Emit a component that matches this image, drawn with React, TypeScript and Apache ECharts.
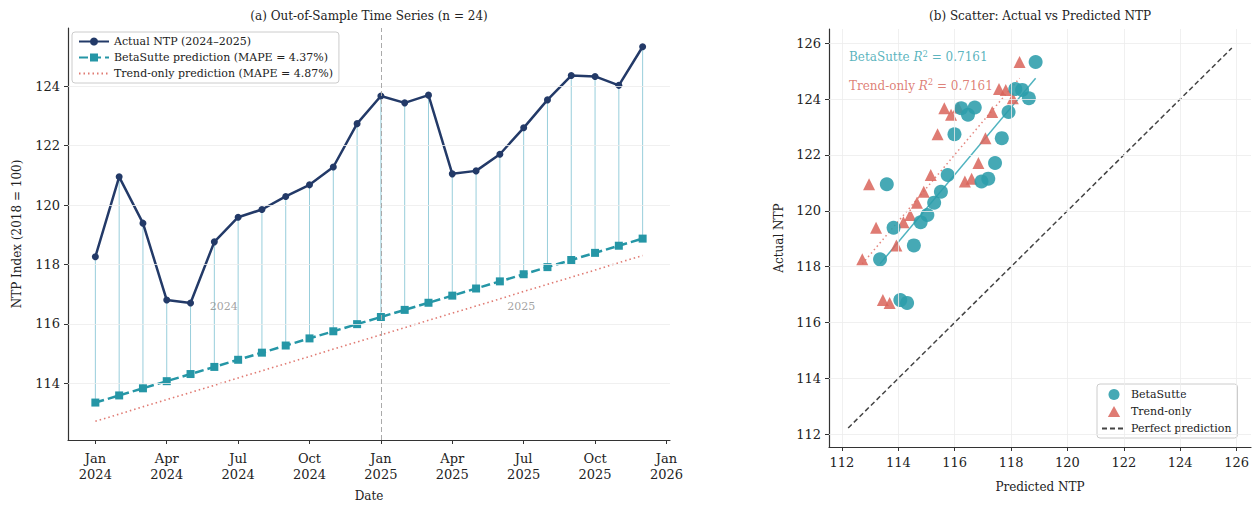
import React, { useEffect, useRef } from "react";
import * as echarts from "echarts";

const months = [
  "2024-01", "2024-02", "2024-03", "2024-04", "2024-05", "2024-06",
  "2024-07", "2024-08", "2024-09", "2024-10", "2024-11", "2024-12",
  "2025-01", "2025-02", "2025-03", "2025-04", "2025-05", "2025-06",
  "2025-07", "2025-08", "2025-09", "2025-10", "2025-11", "2025-12",
];
const actual = [
  118.26, 120.95, 119.39, 116.8, 116.7, 118.76, 119.59, 119.85, 120.29, 120.68, 121.28, 122.74,
  123.67, 123.44, 123.7, 121.05, 121.15, 121.71, 122.6, 123.54, 124.36, 124.33, 124.03, 125.33,
];
const betaSutte = [
  113.35, 113.59, 113.83, 114.07, 114.31, 114.55, 114.79, 115.03, 115.27, 115.51, 115.75, 115.99,
  116.23, 116.47, 116.71, 116.95, 117.19, 117.43, 117.67, 117.91, 118.15, 118.39, 118.63, 118.87,
];
const trendOnly = [
  112.72, 112.96, 113.21, 113.45, 113.69, 113.93, 114.18, 114.42, 114.66, 114.9, 115.15, 115.39,
  115.63, 115.87, 116.12, 116.36, 116.6, 116.84, 117.09, 117.33, 117.57, 117.81, 118.06, 118.3,
];
const xTickPos = [0, 3, 6, 9, 12, 15, 18, 21, 24];
const xTickLabels = [
  "Jan\n2024", "Apr\n2024", "Jul\n2024", "Oct\n2024", "Jan\n2025",
  "Apr\n2025", "Jul\n2025", "Oct\n2025", "Jan\n2026",
];
const leftYTicks = [114, 116, 118, 120, 122, 124];
const scatterTicks = [112, 114, 116, 118, 120, 122, 124, 126];
const yearLabels = [
  { x: 5.4, y: 116.6, text: "2024" },
  { x: 17.9, y: 116.6, text: "2025" },
];
const r2Beta = "0.7161";
const r2Trend = "0.7161";
const mapeBeta = "4.37%";
const mapeTrend = "4.87%";

const FONT = "'DejaVu Serif', 'Liberation Serif', serif";
const NAVY = "#233a68";
const TEAL = "#2596a6";
const TEAL_SC = "#2c9dab";
const RED = "#d9645a";
const RED_DOT = "#e07a72";
const STEM = "#98cedb";
const GRIDC = "#ececec";
const HIDDEN = { color: "rgba(0,0,0,0)", borderWidth: 0, opacity: 0 };

function fit(x: number[], y: number[]) {
  const n = x.length;
  const mx = x.reduce((a, b) => a + b, 0) / n;
  const my = y.reduce((a, b) => a + b, 0) / n;
  let sxy = 0, sxx = 0;
  for (let i = 0; i < n; i++) {
    sxy += (x[i] - mx) * (y[i] - my);
    sxx += (x[i] - mx) * (x[i] - mx);
  }
  const b = sxy / sxx;
  const a = my - b * mx;
  const lo = Math.min(...x), hi = Math.max(...x);
  return [[lo, a + b * lo], [hi, a + b * hi]];
}

export default function App() {
  const ref = useRef<HTMLDivElement>(null);
  useEffect(() => {
    if (!ref.current) return;
    const chart = echarts.init(ref.current, undefined, { renderer: "svg" });
    const idx = months.map((_, i) => i);
    const all = [...actual, ...betaSutte, ...trendOnly];
    const pLo = Math.min(...all) - 0.5;
    const pHi = Math.max(...all) + 0.5;
    const pad = (pHi - pLo) * 0.05;
    const sMin = pLo - pad, sMax = pHi + pad;
    const dMin = Math.min(...all), dMax = Math.max(...all);
    const lPad = (dMax - dMin) * 0.05;

    const axisLineStyle = { color: "#333", width: 1.2 };
    const tickLabel = { fontFamily: FONT, fontSize: 13, color: "#222" };

    const option: any = {
      animation: false,
      backgroundColor: "#fff",
      textStyle: { fontFamily: FONT },
      graphic: [
        {
          type: "text", x: 369, y: 16,
          style: { text: "(a) Out-of-Sample Time Series (n = 24)", font: `12px ${FONT}`, fill: "#222", textAlign: "center", textVerticalAlign: "middle", align: "center", verticalAlign: "middle" },
        },
        {
          type: "text", x: 1040, y: 16,
          style: { text: "(b) Scatter: Actual vs Predicted NTP", font: `12px ${FONT}`, fill: "#222", textAlign: "center", textVerticalAlign: "middle", align: "center", verticalAlign: "middle" },
        },
      ],
      legend: [
        {
          left: 72, top: 32, orient: "vertical",
          data: [
            "Actual NTP (2024–2025)",
            `BetaSutte prediction (MAPE = ${mapeBeta})`,
            { name: `Trend-only prediction (MAPE = ${mapeTrend})`, itemStyle: HIDDEN },
          ],
          itemWidth: 30, itemHeight: 10, itemGap: 5,
          padding: [4, 6, 4, 6],
          borderColor: "#ccc", borderWidth: 1, borderRadius: 3,
          backgroundColor: "rgba(255,255,255,0.85)",
          textStyle: { fontFamily: FONT, fontSize: 11, color: "#222" },
        },
        {
          left: 1097, top: 384, orient: "vertical",
          data: [
            { name: "BetaSutte", icon: "circle" },
            { name: "Trend-only", icon: "path://M5,0 L10,9 L0,9 Z" },
            { name: "Perfect prediction", itemStyle: HIDDEN },
          ],
          itemWidth: 24, itemHeight: 11, itemGap: 6,
          padding: [5, 6, 4, 4],
          borderColor: "#ccc", borderWidth: 1, borderRadius: 3,
          backgroundColor: "rgba(255,255,255,0.85)",
          textStyle: { fontFamily: FONT, fontSize: 11, color: "#222" },
        },
      ],
      grid: [
        { left: 68, top: 28, width: 602, height: 417 },
        { left: 829, top: 29, width: 422, height: 418 },
      ],
      xAxis: [
        {
          gridIndex: 0, type: "value", min: -1.15, max: 24.15,
          name: "Date", nameLocation: "middle", nameGap: 50,
          nameTextStyle: { fontFamily: FONT, fontSize: 12, color: "#222" },
          axisLine: { show: true, onZero: false, lineStyle: axisLineStyle },
          axisTick: { show: true, customValues: xTickPos, length: 4, lineStyle: { color: "#333" } },
          axisLabel: {
            customValues: xTickPos, ...tickLabel, lineHeight: 16, margin: 10,
            formatter: (v: number) => xTickLabels[xTickPos.indexOf(Math.round(v))] ?? "",
          },
          splitLine: { show: false },
        },
        {
          gridIndex: 1, type: "value", min: sMin, max: sMax,
          name: "Predicted NTP", nameLocation: "middle", nameGap: 34,
          nameTextStyle: { fontFamily: FONT, fontSize: 12, color: "#222" },
          axisLine: { show: true, onZero: false, lineStyle: axisLineStyle },
          axisTick: { show: true, customValues: scatterTicks, length: 4, lineStyle: { color: "#333" } },
          axisLabel: { customValues: scatterTicks, ...tickLabel, margin: 9, formatter: (v: number) => String(Math.round(v)) },
          splitLine: { show: false },
        },
      ],
      yAxis: [
        {
          gridIndex: 0, type: "value", min: dMin - lPad, max: dMax + lPad,
          name: "NTP Index (2018 = 100)", nameLocation: "middle", nameGap: 45,
          nameTextStyle: { fontFamily: FONT, fontSize: 12, color: "#222" },
          axisLine: { show: true, onZero: false, lineStyle: axisLineStyle },
          axisTick: { show: true, customValues: leftYTicks, length: 4, lineStyle: { color: "#333" } },
          axisLabel: { customValues: leftYTicks, ...tickLabel, margin: 8, formatter: (v: number) => String(Math.round(v)) },
          splitLine: { show: false },
        },
        {
          gridIndex: 1, type: "value", min: sMin, max: sMax,
          name: "Actual NTP", nameLocation: "middle", nameGap: 44,
          nameTextStyle: { fontFamily: FONT, fontSize: 12, color: "#222" },
          axisLine: { show: true, onZero: false, lineStyle: axisLineStyle },
          axisTick: { show: true, customValues: scatterTicks, length: 4, lineStyle: { color: "#333" } },
          axisLabel: { customValues: scatterTicks, ...tickLabel, margin: 8, formatter: (v: number) => String(Math.round(v)) },
          splitLine: { show: false },
        },
      ],
      series: [
        {
          type: "line", xAxisIndex: 0, yAxisIndex: 0, data: [], silent: true, z: 0,
          markLine: {
            silent: true, symbol: "none", label: { show: false },
            lineStyle: { color: GRIDC, width: 0.8, type: "solid" },
            data: [
              ...leftYTicks.map((v) => ({ yAxis: v })),
              { xAxis: 12, lineStyle: { color: "#aaa", width: 1, type: [5, 3] } },
            ],
          },
        },
        {
          type: "custom", xAxisIndex: 0, yAxisIndex: 0, silent: true, z: 1,
          data: idx.map((i) => [i, betaSutte[i], actual[i]]),
          renderItem: (params: any, api: any) => {
            const p1 = api.coord([api.value(0), api.value(1)]);
            const p2 = api.coord([api.value(0), api.value(2)]);
            return { type: "line", shape: { x1: p1[0], y1: p1[1], x2: p2[0], y2: p2[1] }, style: { stroke: STEM, lineWidth: 1 } };
          },
        },
        {
          name: `Trend-only prediction (MAPE = ${mapeTrend})`,
          type: "line", xAxisIndex: 0, yAxisIndex: 0, z: 2,
          data: idx.map((i) => [i, trendOnly[i]]),
          showSymbol: false, symbol: "none",
          lineStyle: { color: RED_DOT, width: 1.6, type: [1.5, 3] },
          itemStyle: { color: RED_DOT },
        },
        {
          name: `BetaSutte prediction (MAPE = ${mapeBeta})`,
          type: "line", xAxisIndex: 0, yAxisIndex: 0, z: 3,
          data: idx.map((i) => [i, betaSutte[i]]),
          symbol: "rect", symbolSize: 8,
          lineStyle: { color: TEAL, width: 2.5, type: [9, 4] },
          itemStyle: { color: TEAL },
        },
        {
          name: "Actual NTP (2024–2025)",
          type: "line", xAxisIndex: 0, yAxisIndex: 0, z: 4,
          data: idx.map((i) => [i, actual[i]]),
          symbol: "circle", symbolSize: 7,
          lineStyle: { color: NAVY, width: 2.5 },
          itemStyle: { color: NAVY },
        },
        {
          type: "scatter", xAxisIndex: 0, yAxisIndex: 0, silent: true, z: 5,
          symbolSize: 0,
          data: yearLabels.map((d) => [d.x, d.y, d.text]),
          label: {
            show: true, position: "inside", formatter: (p: any) => p.data[2],
            fontFamily: FONT, fontSize: 11, color: "#8a8a8a",
          },
        },
        {
          type: "line", xAxisIndex: 1, yAxisIndex: 1, data: [], silent: true, z: 0,
          markLine: {
            silent: true, symbol: "none", label: { show: false },
            lineStyle: { color: GRIDC, width: 0.8, type: "solid" },
            data: [
              ...scatterTicks.map((v) => ({ yAxis: v })),
              ...scatterTicks.map((v) => ({ xAxis: v })),
            ],
          },
        },
        {
          name: "Perfect prediction",
          type: "line", xAxisIndex: 1, yAxisIndex: 1, z: 2,
          data: [[pLo, pLo], [pHi, pHi]], symbol: "none",
          lineStyle: { color: "#444", width: 1.5, type: [5, 3] },
          itemStyle: { color: "#444" },
        },
        {
          type: "line", xAxisIndex: 1, yAxisIndex: 1, z: 2, silent: true,
          data: fit(trendOnly, actual), symbol: "none",
          lineStyle: { color: RED_DOT, width: 1.5, type: [1.5, 3], opacity: 0.9 },
        },
        {
          type: "line", xAxisIndex: 1, yAxisIndex: 1, z: 2, silent: true,
          data: fit(betaSutte, actual), symbol: "none",
          lineStyle: { color: "#4fb3bf", width: 1.5 },
        },
        {
          name: "Trend-only",
          type: "scatter", xAxisIndex: 1, yAxisIndex: 1, z: 3,
          data: idx.map((i) => [trendOnly[i], actual[i]]),
          symbol: "triangle", symbolSize: 12,
          itemStyle: { color: RED, opacity: 0.85 },
        },
        {
          name: "BetaSutte",
          type: "scatter", xAxisIndex: 1, yAxisIndex: 1, z: 4,
          data: idx.map((i) => [betaSutte[i], actual[i]]),
          symbol: "circle", symbolSize: 14,
          itemStyle: { color: TEAL_SC, opacity: 0.88 },
        },
        {
          type: "scatter", xAxisIndex: 1, yAxisIndex: 1, silent: true, z: 6,
          symbolSize: 0,
          data: [
            { value: [112.25, 125.5], name: "b" },
            { value: [112.25, 124.47], name: "t" },
          ],
          label: {
            show: true, position: "right", distance: 0,
            formatter: (p: any) =>
              p.name === "b"
                ? `{b|BetaSutte }{bi|R}{bs|2}{b| = ${r2Beta}}`
                : `{t|Trend-only }{ti|R}{ts|2}{t| = ${r2Trend}}`,
            rich: {
              b: { fontFamily: FONT, fontSize: 12, color: "#2f9fad" },
              bi: { fontFamily: FONT, fontSize: 12, color: "#2f9fad", fontStyle: "italic" },
              bs: { fontFamily: FONT, fontSize: 8.5, color: "#2f9fad", padding: [0, 0, 7, 0] },
              t: { fontFamily: FONT, fontSize: 12, color: "#d65f55" },
              ti: { fontFamily: FONT, fontSize: 12, color: "#d65f55", fontStyle: "italic" },
              ts: { fontFamily: FONT, fontSize: 8.5, color: "#d65f55", padding: [0, 0, 7, 0] },
            },
          },
        },
      ],
    };
    chart.setOption(option);
    return () => chart.dispose();
  }, []);
  return (
    <div
      ref={ref}
      style={{ position: "fixed", left: 0, top: 0, width: 1257, height: 507, background: "#fff" }}
    />
  );
}
